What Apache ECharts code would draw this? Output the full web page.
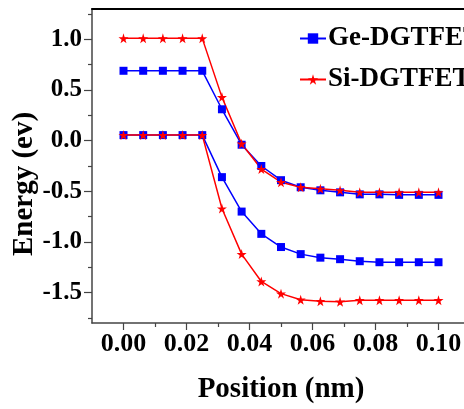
<!DOCTYPE html>
<html><head><meta charset="utf-8">
<script src="https://cdn.jsdelivr.net/npm/echarts@6/dist/echarts.min.js"></script>
<style>html,body{margin:0;padding:0;background:#fff}#c{width:464px;height:409px}</style>
</head><body><div id="c"></div>
<script>
const positions = [0, 0.00625, 0.0125, 0.01875, 0.025, 0.03125, 0.0375, 0.04375, 0.05, 0.05625, 0.0625, 0.06875, 0.075, 0.08125, 0.0875, 0.09375, 0.1];
const geUpper = [0.69, 0.69, 0.69, 0.69, 0.69, 0.31, -0.04, -0.25, -0.39, -0.46, -0.49, -0.51, -0.53, -0.53, -0.535, -0.535, -0.535];
const geLower = [0.055, 0.055, 0.055, 0.055, 0.055, -0.36, -0.70, -0.92, -1.05, -1.12, -1.155, -1.17, -1.19, -1.20, -1.20, -1.20, -1.20];
const siUpper = [1.01, 1.01, 1.01, 1.01, 1.01, 0.43, -0.03, -0.28, -0.41, -0.46, -0.475, -0.49, -0.51, -0.51, -0.51, -0.51, -0.51];
const siLower = [0.055, 0.055, 0.055, 0.055, 0.055, -0.67, -1.12, -1.39, -1.51, -1.57, -1.585, -1.59, -1.575, -1.575, -1.575, -1.575, -1.575];
const xMajorTicks = [0, 0.02, 0.04, 0.06, 0.08, 0.10];
const xMinorTicks = [0.01, 0.03, 0.05, 0.07, 0.09];
const yMajorTicks = [-1.5, -1.0, -0.5, 0.0, 0.5, 1.0];
const yMinorTicks = [-1.75, -1.25, -0.75, -0.25, 0.25, 0.75, 1.25];
const seriesNames = ['Ge-DGTFET', 'Si-DGTFET'];

const X_MIN = -0.01, X_MAX = 0.11, Y_MIN = -1.8, Y_MAX = 1.3;
const FONT = 'Liberation Serif';
const STAR = 'path://M50,0 L61,35 L98,35 L68,57 L79,91 L50,70 L21,91 L32,57 L2,35 L39,35 Z';
const pair = arr => positions.map((x, i) => [x, arr[i]]);

function mkSeries(name, data, color, symbol, size) {
  return {
    name: name, type: 'line', data: pair(data),
    symbol: symbol, symbolSize: size,
    lineStyle: { color: color, width: 1.5 },
    itemStyle: { color: color },
    emphasis: { disabled: true }
  };
}

const chart = echarts.init(document.getElementById('c'), null, { renderer: 'canvas' });
chart.setOption({
  animation: false,
  backgroundColor: '#fff',
  grid: { left: 92, top: 9, bottom: 86, right: -6, containLabel: false, outerBoundsMode: 'none' },
  legend: {
    data: seriesNames,
    orient: 'vertical',
    left: 294, top: 18,
    itemWidth: 26, itemHeight: 13, itemGap: 10,
    textStyle: { fontFamily: FONT, fontWeight: 'bold', fontSize: 27, color: '#000', lineHeight: 31, padding: [0, 0, 0, -3] }
  },
  xAxis: [
    {
      type: 'value', min: X_MIN, max: X_MAX, position: 'bottom',
      name: 'Position (nm)', nameLocation: 'middle', nameGap: 52, nameMoveOverlap: false,
      nameTextStyle: { fontFamily: FONT, fontWeight: 'bold', fontSize: 29, color: '#000' },
      axisLine: { show: true, onZero: false, lineStyle: { color: '#444', width: 1.5 } },
      axisTick: { show: true, inside: false, length: 7, customValues: xMajorTicks, lineStyle: { color: '#444', width: 1.2 } },
      axisLabel: { customValues: xMajorTicks, margin: 8, fontFamily: FONT, fontWeight: 'bold', fontSize: 26, color: '#000', formatter: v => v.toFixed(2) },
      splitLine: { show: false }
    },
    {
      type: 'value', min: X_MIN, max: X_MAX, position: 'bottom', offset: 0,
      axisLine: { show: false, onZero: false },
      axisTick: { show: true, inside: false, length: 4, customValues: xMinorTicks, lineStyle: { color: '#444', width: 1.2 } },
      axisLabel: { show: false }, splitLine: { show: false }
    },
    {
      type: 'value', min: X_MIN, max: X_MAX, position: 'top', offset: 0,
      axisLine: { show: true, onZero: false, lineStyle: { color: '#000', width: 2 } },
      axisTick: { show: false }, axisLabel: { show: false }, splitLine: { show: false }
    }
  ],
  yAxis: [
    {
      type: 'value', min: Y_MIN, max: Y_MAX, position: 'left',
      name: 'Energy (ev)', nameLocation: 'middle', nameGap: 53, nameMoveOverlap: false,
      nameTextStyle: { fontFamily: FONT, fontWeight: 'bold', fontSize: 29, color: '#000', padding: [0, 36, 0, 0] },
      axisLine: { show: true, onZero: false, lineStyle: { color: '#444', width: 1.5 } },
      axisTick: { show: true, inside: false, length: 8, customValues: yMajorTicks, lineStyle: { color: '#444', width: 1.2 } },
      axisLabel: { customValues: yMajorTicks, margin: 10, fontFamily: FONT, fontWeight: 'bold', fontSize: 25, color: '#000', formatter: v => v.toFixed(1) },
      splitLine: { show: false }
    },
    {
      type: 'value', min: Y_MIN, max: Y_MAX, position: 'left', offset: 0,
      axisLine: { show: false, onZero: false },
      axisTick: { show: true, inside: false, length: 4, customValues: yMinorTicks, lineStyle: { color: '#444', width: 1.2 } },
      axisLabel: { show: false }, splitLine: { show: false }
    }
  ],
  series: [
    mkSeries(seriesNames[0], geUpper, '#0000ff', 'rect', 8),
    mkSeries(seriesNames[0], geLower, '#0000ff', 'rect', 8),
    mkSeries(seriesNames[1], siUpper, '#ff0000', STAR, 10),
    mkSeries(seriesNames[1], siLower, '#ff0000', STAR, 10)
  ]
});
</script></body></html>
